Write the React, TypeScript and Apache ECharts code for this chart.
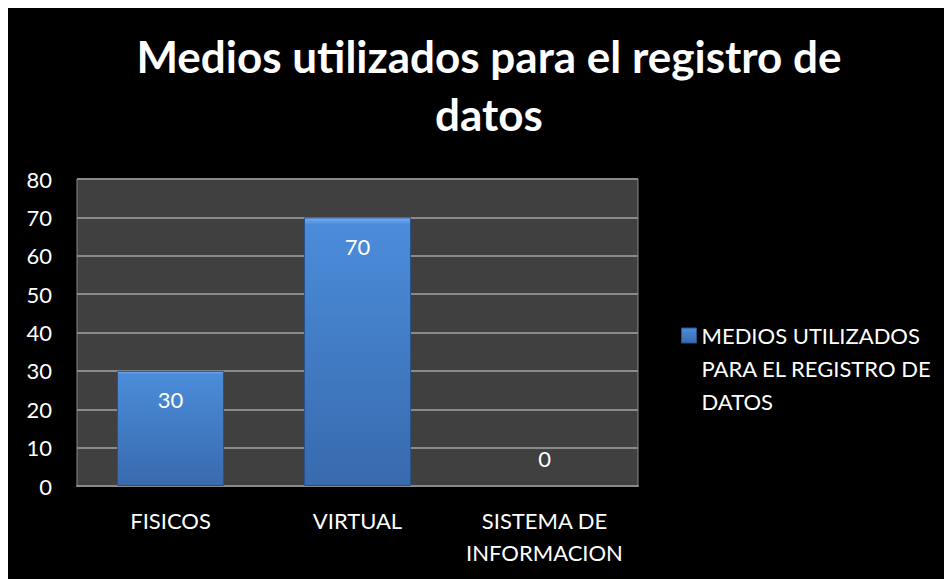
import React, { useEffect, useRef } from "react";
import * as echarts from "echarts";

const categories = ["FISICOS", "VIRTUAL", "SISTEMA DE\nINFORMACION"];
const values = [30, 70, 0];
const seriesName = "MEDIOS UTILIZADOS\nPARA EL REGISTRO DE\nDATOS";
const titleText = "Medios utilizados para el registro de\ndatos";

const FONT = "Lato, 'Open Sans', sans-serif";

export default function App() {
  const ref = useRef<HTMLDivElement>(null);
  useEffect(() => {
    if (!ref.current) return;
    const chart = echarts.init(ref.current, undefined, { renderer: "svg" });
    const barColor = new echarts.graphic.LinearGradient(0, 0, 0, 1, [
      { offset: 0, color: "#76aef0" },
      { offset: 0.025, color: "#4b8cda" },
      { offset: 1, color: "#386aae" },
    ]);
    chart.setOption({
      animation: false,
      backgroundColor: "#000000",
      textStyle: { fontFamily: FONT },
      title: {
        text: titleText,
        left: 476,
        top: 14,
        textAlign: "center",
        textStyle: {
          color: "#ffffff",
          fontSize: 44,
          fontWeight: "bold",
          fontFamily: FONT,
          lineHeight: 58,
        },
      },
      legend: {
        left: 673,
        top: 245,
        padding: 0,
        itemWidth: 15,
        itemHeight: 15,
        icon: "rect",
        selectedMode: false,
        formatter: (name: string) => "\n\n" + name,
        data: [
          {
            name: seriesName,
            itemStyle: { color: barColor, borderColor: "#2a528a", borderWidth: 1 },
          },
        ],
        textStyle: {
          color: "#ffffff",
          fontSize: 22,
          fontFamily: FONT,
          lineHeight: 33,
        },
      },
      grid: {
        left: 69,
        top: 171,
        width: 561,
        height: 307,
        show: true,
        backgroundColor: "#404040",
        borderColor: "#8a8a8a",
        borderWidth: 1,
        containLabel: false,
      },
      xAxis: {
        type: "category",
        data: categories,
        axisTick: { show: false },
        axisLine: { lineStyle: { color: "#8a8a8a", width: 2 } },
        axisLabel: {
          color: "#ffffff",
          fontSize: 22,
          fontFamily: FONT,
          lineHeight: 32,
          margin: 18,
          interval: 0,
        },
      },
      yAxis: {
        type: "value",
        min: 0,
        max: 80,
        interval: 10,
        axisLine: { show: false },
        axisTick: { show: false },
        splitLine: { lineStyle: { color: "#8a8a8a", width: 2 } },
        axisLabel: {
          color: "#ffffff",
          fontSize: 22,
          fontFamily: FONT,
          margin: 25,
        },
      },
      series: [
        {
          type: "bar",
          name: seriesName,
          barWidth: 107,
          data: values.map((v) =>
            v === 0
              ? {
                  value: v,
                  itemStyle: { borderWidth: 0 },
                  label: { position: "top", distance: 17 },
                }
              : { value: v }
          ),
          itemStyle: {
            color: barColor,
            borderColor: "#2a528a",
            borderWidth: 1,
          },
          label: {
            show: true,
            position: "insideTop",
            distance: 18,
            color: "#ffffff",
            fontSize: 22,
            fontFamily: FONT,
          },
        },
      ],
    });
    return () => chart.dispose();
  }, []);
  return <div ref={ref} style={{ width: 944, height: 571 }} />;
}
